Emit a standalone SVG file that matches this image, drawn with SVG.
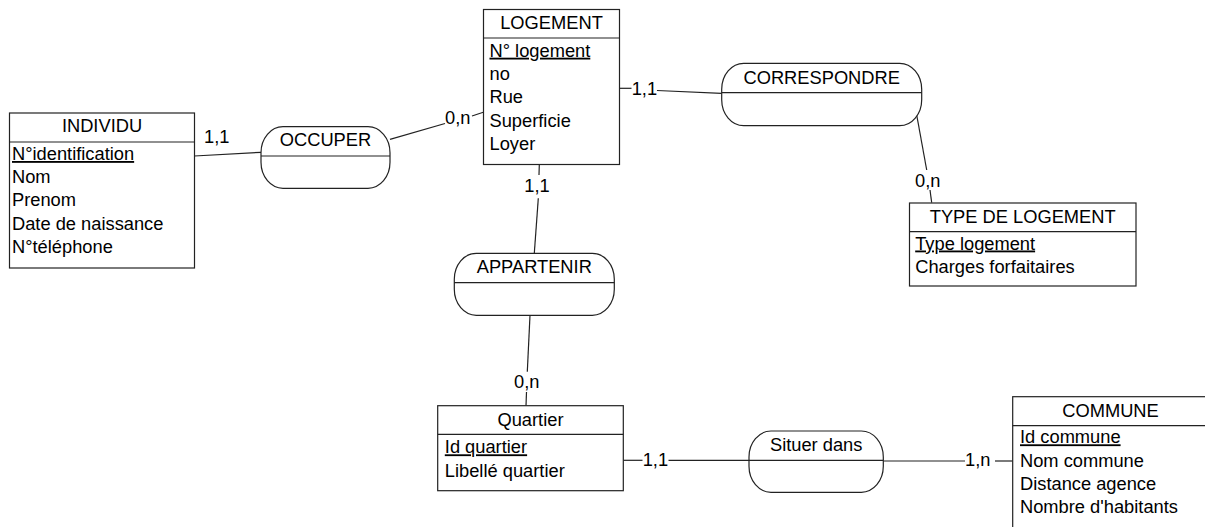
<svg xmlns="http://www.w3.org/2000/svg" width="1205" height="527" viewBox="0 0 1205 527">
<style>
text{font-family:"Liberation Sans",Arial,sans-serif;font-size:18.3px;fill:#000}
.t{text-anchor:middle}
.k{text-decoration:underline}
.box{fill:#fff;stroke:#222;stroke-width:1.2}
.sep{stroke:#222;stroke-width:1.2;fill:none}
.rel{fill:#fff;stroke:#222;stroke-width:1.2}
.c line{stroke:#222;stroke-width:1.2}
</style>
<rect width="1205" height="527" fill="#fff"/>
<g id="connectors" class="c">
<line x1="194.3" y1="156" x2="261" y2="152.3"/>
<line x1="390" y1="139.3" x2="445" y2="123.5"/>
<line x1="472" y1="116" x2="483.3" y2="112.3"/>
<line x1="619.3" y1="88.3" x2="631.5" y2="88.3"/>
<line x1="657" y1="90.5" x2="721.7" y2="93.3"/>
<line x1="916.7" y1="115" x2="926.7" y2="170"/>
<line x1="930" y1="190" x2="931.7" y2="202.7"/>
<line x1="539.3" y1="164.7" x2="539" y2="175"/>
<line x1="538.3" y1="198.3" x2="534.3" y2="253.3"/>
<line x1="530" y1="315.3" x2="527.3" y2="371.7"/>
<line x1="526.5" y1="392" x2="526" y2="405.7"/>
<line x1="623.3" y1="460.3" x2="642.5" y2="460.3"/>
<line x1="668.5" y1="460.3" x2="749" y2="460.3"/>
<line x1="883.3" y1="461" x2="965" y2="461"/>
<line x1="995" y1="461" x2="1012.7" y2="461"/>
<text x="204" y="142.7">1,1</text>
<text x="445" y="124">0,n</text>
<text x="631.7" y="95">1,1</text>
<text x="915" y="187.3">0,n</text>
<text x="537" y="192.3" class="t">1,1</text>
<text x="526.7" y="388.3" class="t">0,n</text>
<text x="642.7" y="466">1,1</text>
<text x="965" y="466">1,n</text>
</g>
<g id="individu">
<rect class="box" x="9.5" y="113" width="185" height="155"/>
<line class="sep" x1="9.5" y1="142" x2="194.5" y2="142"/>
<text x="102" y="131.7" class="t">INDIVIDU</text>
<text x="12" y="160" class="k">N°identification</text>
<text x="12" y="183.2">Nom</text>
<text x="12" y="206.4">Prenom</text>
<text x="12" y="229.6">Date de naissance</text>
<text x="12" y="252.8">N°téléphone</text>
</g>
<g id="logement">
<rect class="box" x="483.5" y="9.5" width="136" height="155"/>
<line class="sep" x1="483.5" y1="38" x2="619.5" y2="38"/>
<text x="551.5" y="29.3" class="t">LOGEMENT</text>
<text x="489.5" y="56.7" class="k">N° logement</text>
<text x="489.5" y="80">no</text>
<text x="489.5" y="103.3">Rue</text>
<text x="489.5" y="126.6">Superficie</text>
<text x="489.5" y="149.9">Loyer</text>
</g>
<g id="type_logement">
<rect class="box" x="909.5" y="203" width="226.5" height="83"/>
<line class="sep" x1="909.5" y1="231.7" x2="1136" y2="231.7"/>
<text x="1022.7" y="223.3" class="t">TYPE DE LOGEMENT</text>
<text x="915.2" y="249.5" class="k">Type logement</text>
<text x="915.2" y="273.3">Charges forfaitaires</text>
</g>
<g id="quartier">
<rect class="box" x="437.7" y="405.7" width="185.6" height="85"/>
<line class="sep" x1="437.7" y1="434.3" x2="623.3" y2="434.3"/>
<text x="530.5" y="426" class="t">Quartier</text>
<text x="444.8" y="453.3" class="k">Id quartier</text>
<text x="444.8" y="476.7">Libellé quartier</text>
</g>
<g id="commune">
<rect class="box" x="1012.7" y="396.7" width="196" height="150"/>
<line class="sep" x1="1012.7" y1="425.7" x2="1208.7" y2="425.7"/>
<text x="1110.5" y="417.3" class="t">COMMUNE</text>
<text x="1020" y="443.3" class="k">Id commune</text>
<text x="1020" y="466.5">Nom commune</text>
<text x="1020" y="489.7">Distance agence</text>
<text x="1020" y="512.9">Nombre d'habitants</text>
</g>
<g id="occuper">
<rect class="rel" x="261" y="126.7" width="129" height="61.6" rx="22" ry="26"/>
<line class="sep" x1="261" y1="156" x2="390" y2="156"/>
<text x="325.5" y="145.7" class="t">OCCUPER</text>
</g>
<g id="correspondre">
<rect class="rel" x="721.7" y="63.3" width="200" height="62.4" rx="22" ry="26"/>
<line class="sep" x1="721.7" y1="92.7" x2="921.7" y2="92.7"/>
<text x="821.7" y="84" class="t">CORRESPONDRE</text>
</g>
<g id="appartenir">
<rect class="rel" x="454.3" y="253.3" width="160" height="62" rx="22" ry="26"/>
<line class="sep" x1="454.3" y1="282.7" x2="614.3" y2="282.7"/>
<text x="534.3" y="273.3" class="t">APPARTENIR</text>
</g>
<g id="situer_dans">
<rect class="rel" x="749" y="431" width="134.3" height="61.3" rx="22" ry="26"/>
<line class="sep" x1="749" y1="460.3" x2="883.3" y2="460.3"/>
<text x="816.2" y="451" class="t">Situer dans</text>
</g>
</svg>
